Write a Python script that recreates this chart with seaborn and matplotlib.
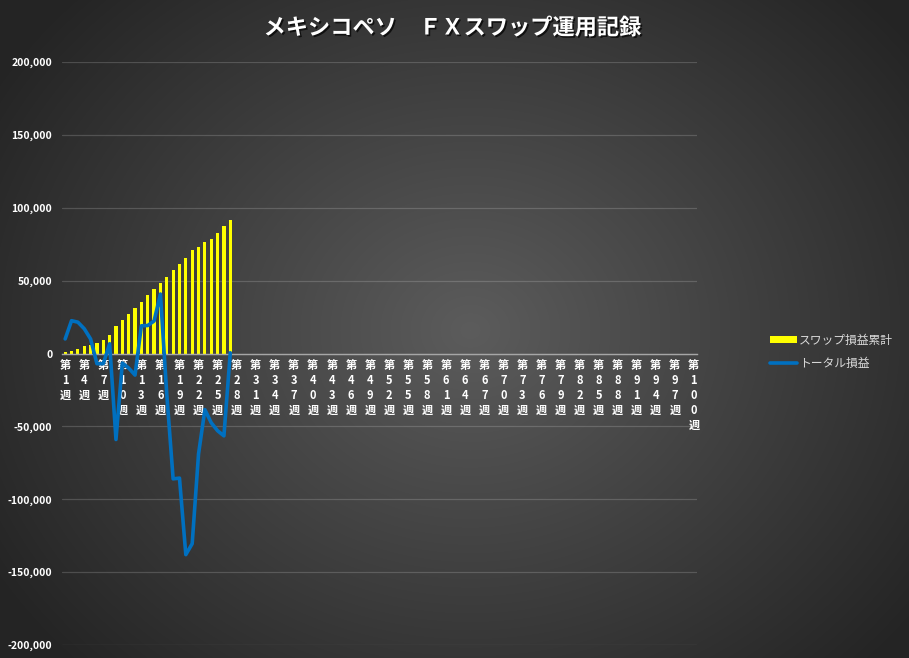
import numpy as np
import matplotlib
matplotlib.use("Agg")
import matplotlib.pyplot as plt
import matplotlib.patheffects as pe
from matplotlib.ticker import FuncFormatter
import seaborn as sns

sns.set_style("dark")
plt.rcParams['font.family'] = ['Noto Sans CJK JP', 'DejaVu Sans']

# weeks 1..100 on the category axis, data only for the first 27
all_weeks = [f"第{i}週" for i in range(1, 101)]

# cumulative swap gains (bars)
swap_total = [1200, 1900, 3300, 5400, 5500, 7000, 9600, 13000, 18600, 22700,
              26900, 31200, 35200, 40000, 44100, 48100, 52700, 57500, 61600,
              65800, 70800, 73400, 76400, 78900, 82600, 87200, 91800]

# total profit / loss (line)
total_pl = [10000, 22500, 21500, 17000, 10000, -7000, -7000, 6700, -59000,
            -6500, -10000, -14800, 19000, 19200, 22300, 40800, -28000,
            -86000, -85500, -138000, -130500, -69000, -38500, -47500,
            -53000, -56500, 500]

data_weeks = all_weeks[:len(swap_total)]
y_ticks = list(range(-200000, 200001, 50000))
title = "メキシコペソ　ＦＸスワップ運用記録"

fig = plt.figure(figsize=(9.09, 6.58), dpi=100)

# radial gradient background like the Excel chart area
bg = fig.add_axes([0, 0, 1, 1])
h, w = 658, 909
yy, xx = np.mgrid[0:h, 0:w]
r = np.sqrt(((xx - 470) / 560) ** 2 + ((yy - 330) / 480) ** 2)
r = np.clip(r, 0, 1)
shade = (0x5c + (0x24 - 0x5c) * r) / 255
bg.imshow(np.dstack([shade, shade, shade]), extent=[0, 1, 0, 1], aspect='auto')
bg.set_axis_off()
bg.set_zorder(-1)

ax = fig.add_axes([62 / 909, 1 - 645 / 658, 635 / 909, 583 / 658])
ax.patch.set_alpha(0)

sns.barplot(x=data_weeks, y=swap_total, order=all_weeks, color='#ffff00',
            saturation=1, width=0.5, linewidth=0, ax=ax, label="スワップ損益累計")
sns.lineplot(x=np.arange(len(total_pl)), y=total_pl, color='#0070c0',
             linewidth=2.6, ax=ax, label="トータル損益")

ax.set_xlim(-0.5, 99.5)
ax.set_ylim(-200000, 200000)
ax.set_yticks(y_ticks)
ax.yaxis.set_major_formatter(FuncFormatter(lambda v, p: f"{int(v):,}"))
ax.yaxis.grid(True, color='white', alpha=0.17, linewidth=0.9)
ax.xaxis.grid(False)

tick_pos = list(range(0, 100, 3))
ax.set_xticks(tick_pos)
ax.set_xticklabels(["\n".join(all_weeks[i]) for i in tick_pos], linespacing=1.0)
ax.set_xlabel("")

for s in ['top', 'right', 'left']:
    ax.spines[s].set_visible(False)
ax.spines['bottom'].set_position(('data', 0))
ax.spines['bottom'].set_color('#a6a6a6')
ax.spines['bottom'].set_linewidth(1.0)
ax.spines['bottom'].set_zorder(1)

ax.tick_params(axis='x', length=0, pad=4, labelsize=8, labelcolor='white')
ax.tick_params(axis='y', length=0, pad=7, labelsize=7.5, labelcolor='white')
for t in ax.get_xticklabels() + ax.get_yticklabels():
    t.set_fontweight('bold')

handles, labels = ax.get_legend_handles_labels()
ax.get_legend().remove()
order = [labels.index("スワップ損益累計"), labels.index("トータル損益")]
fig.legend([handles[i] for i in order], [labels[i] for i in order],
           loc='center left', bbox_to_anchor=(759 / 909, 1 - 352 / 658),
           frameon=False, labelcolor='#d9d9d9', fontsize=8.5, handlelength=2.3,
           handleheight=0.6, labelspacing=0.9, handletextpad=0.2)

fig.text(0.498, 1 - 28 / 658, title, ha='center', va='center', fontsize=16,
         fontweight='bold', color='white',
         path_effects=[pe.withSimplePatchShadow(offset=(1.2, -1.2), shadow_rgbFace='black', alpha=0.7)])

fig.savefig("out.png", dpi=100)
